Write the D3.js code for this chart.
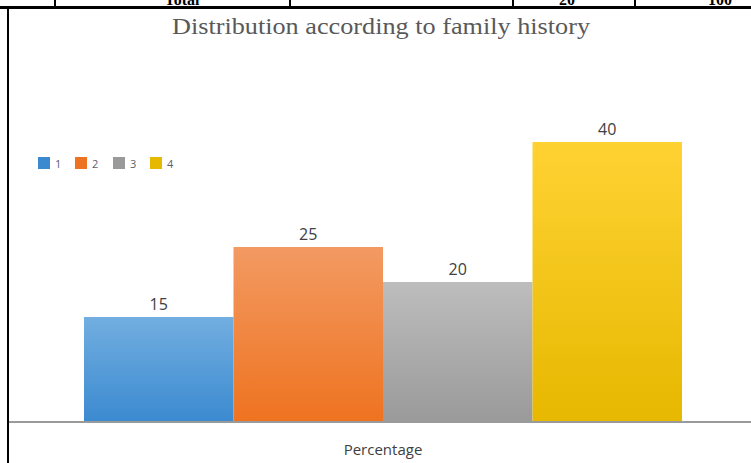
<!DOCTYPE html>
<html><head><meta charset="utf-8">
<script src="https://cdn.jsdelivr.net/npm/d3@7"></script>
<style>body{margin:0;background:#fff;}svg{display:block;}</style>
</head><body>
<svg id="c" width="751" height="463"></svg>
<script>
const categories = ["1", "2", "3", "4"];
const values = [15, 25, 20, 40];
const colorsTop = ["#72aee0", "#f39a62", "#bdbdbd", "#ffd233"];
const colorsBottom = ["#3b8ad0", "#ee7320", "#9a9a9a", "#e6b800"];
const title = "Distribution according to family history";
const xLabel = "Percentage";
const tableTexts = [{t:"Total", x:182}, {t:"20", x:567}, {t:"100", x:720}];

const svg = d3.select("#c");
const defs = svg.append("defs");
categories.forEach((c,i)=>{
  const g = defs.append("linearGradient").attr("id","g"+i).attr("x1",0).attr("y1",0).attr("x2",0).attr("y2",1);
  g.append("stop").attr("offset","0%").attr("stop-color",colorsTop[i]);
  g.append("stop").attr("offset","100%").attr("stop-color",colorsBottom[i]);
});

// table fragment at top
tableTexts.forEach(d=>svg.append("text").attr("x",d.x).attr("y",5).attr("text-anchor","middle")
  .attr("font-family","Liberation Serif").attr("font-weight","bold").attr("font-size",16).attr("fill","#000").text(d.t));
svg.append("rect").attr("x",0).attr("y",6).attr("width",751).attr("height",3).attr("fill","#000");
[55,290,513,635].forEach(x=>svg.append("rect").attr("x",x-1).attr("y",0).attr("width",2).attr("height",7).attr("fill","#000"));
svg.append("rect").attr("x",7).attr("y",8).attr("width",2).attr("height",455).attr("fill","#000");

// title
svg.append("text").attr("x",381).attr("y",34).attr("text-anchor","middle")
  .attr("font-family","Liberation Serif").attr("font-size",23).attr("fill","#595959")
  .attr("textLength",418).attr("lengthAdjust","spacingAndGlyphs").text(title);

const x = d3.scaleBand().domain(categories).range([84,682]).padding(0);
const y = d3.scaleLinear().domain([0,40]).range([422,142]);

svg.selectAll("rect.bar").data(values).join("rect").attr("class","bar")
  .attr("x",(d,i)=>x(categories[i])).attr("width",x.bandwidth())
  .attr("y",d=>y(d)).attr("height",d=>y(0)-y(d))
  .attr("fill",(d,i)=>`url(#g${i})`);

svg.selectAll("text.val").data(values).join("text").attr("class","val")
  .attr("x",(d,i)=>x(categories[i])+x.bandwidth()/2).attr("y",d=>y(d)-7)
  .attr("text-anchor","middle").attr("font-family","Open Sans").attr("font-size",16).attr("fill","#404040").text(d=>d);

// baseline
svg.append("rect").attr("x",9).attr("y",421).attr("width",742).attr("height",2).attr("fill","#9a9a9a");

svg.append("text").attr("x",383).attr("y",455).attr("text-anchor","middle")
  .attr("font-family","Open Sans").attr("font-size",15).attr("fill","#404040").text(xLabel);

// legend
const legX = [38,75,113,150];
categories.forEach((c,i)=>{
  svg.append("rect").attr("x",legX[i]).attr("y",157).attr("width",12).attr("height",12).attr("fill",colorsBottom[i]);
  svg.append("text").attr("x",legX[i]+17).attr("y",168).attr("font-family","Open Sans").attr("font-size",11).attr("fill","#5a6070").text(c);
});
</script>
</body></html>
